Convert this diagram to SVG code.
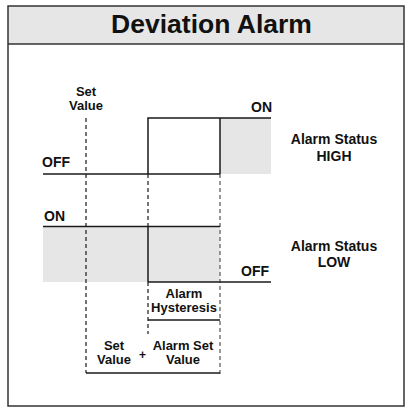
<svg xmlns="http://www.w3.org/2000/svg" width="406" height="410" viewBox="0 0 406 410">
<style>
text{font-family:"Liberation Sans",Arial,sans-serif;font-weight:bold;fill:#111;}
.t13{font-size:13px;text-anchor:middle;}
.t14{font-size:14px;}
.c{text-anchor:middle;}
.solid{stroke:#1a1a1a;stroke-width:1.5;fill:none;}
.dash{stroke:#1a1a1a;stroke-width:1.2;stroke-dasharray:4 3;fill:none;}
.gdash{stroke:#777;stroke-width:1.5;stroke-dasharray:4 3;fill:none;}
.fill{fill:#e6e6e6;stroke:none;}
</style>
<rect x="0" y="0" width="406" height="410" fill="#fff"/>
<g id="frame">
<rect x="8" y="6" width="396" height="38" fill="#e6e6e6"/>
<rect x="8" y="6" width="396" height="400" fill="none" stroke="#333" stroke-width="1.5"/>
<line x1="8" y1="44" x2="404" y2="44" stroke="#333" stroke-width="1.5"/>
<text x="211.5" y="33" style="font-size:26.5px;text-anchor:middle;">Deviation Alarm</text>
</g>
<g id="fills">
<rect class="fill" x="220" y="118" width="51" height="56"/>
<rect class="fill" x="43" y="226.5" width="177" height="55.5"/>
</g>
<g id="connectors">
<line class="dash" x1="86" y1="118" x2="86" y2="373"/>
<line class="dash" x1="148" y1="174" x2="148" y2="226"/>
<line class="dash" x1="148" y1="282" x2="148" y2="334"/>
<line class="gdash" x1="220" y1="174" x2="220" y2="374"/>
<polyline class="solid" points="43,174 220,174"/>
<polyline class="solid" points="148,174 148,118 271,118"/>
<line class="solid" x1="220" y1="118" x2="220" y2="174"/>
<line class="solid" x1="43" y1="226.5" x2="220" y2="226.5"/>
<line class="solid" x1="148" y1="226.5" x2="148" y2="282"/>
<line class="solid" x1="148" y1="282" x2="271" y2="282"/>
<line class="solid" x1="148" y1="320" x2="220" y2="320"/>
<line class="solid" x1="86" y1="373" x2="220" y2="373"/>
</g>
<g id="set-value-label">
<text class="t13" x="86" y="96">Set</text>
<text class="t13" x="86" y="110">Value</text>
</g>
<g id="high-signal">
<text class="t14" x="272" y="112" text-anchor="end">ON</text>
<text class="t14" x="42" y="167">OFF</text>
<text class="t14 c" x="334" y="144">Alarm Status</text>
<text class="t14 c" x="334" y="161">HIGH</text>
</g>
<g id="low-signal">
<text class="t14" x="44" y="221">ON</text>
<text class="t14" x="241" y="276">OFF</text>
<text class="t14 c" x="334" y="251">Alarm Status</text>
<text class="t14 c" x="334" y="267">LOW</text>
</g>
<g id="hysteresis-label">
<text class="t13" x="184" y="298">Alarm</text>
<text class="t13" x="184" y="312">Hysteresis</text>
</g>
<g id="sum-label">
<text class="t13" x="114" y="350">Set</text>
<text class="t13" x="114" y="364">Value</text>
<text class="t13" x="142.5" y="359" style="font-size:12px">+</text>
<text class="t13" x="183" y="350">Alarm Set</text>
<text class="t13" x="183" y="364">Value</text>
</g>
</svg>
